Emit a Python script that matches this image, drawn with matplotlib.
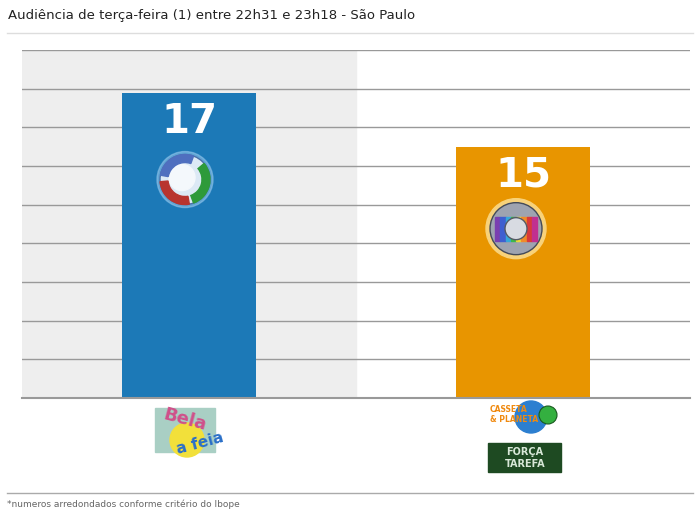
import matplotlib as mpl

mpl.use("Agg")
import matplotlib.pyplot as plt
from matplotlib.patches import Circle, Wedge, Rectangle, FancyBboxPatch
from matplotlib.transforms import ScaledTranslation, blended_transform_factory

# data
channels = ["Record", "Globo"]
programs = [["Bela a Feia"], ["Casseta & Planeta", "Força Tarefa"]]
bar_heights = [15.8, 13.0]  # drawn heights on a 0-18 scale
value_labels = ["17", "15"]
bar_colors = ["#1c79b7", "#e89500"]

title = "Audiência de terça-feira (1) entre 22h31 e 23h18 - São Paulo"
footnote = "*numeros arredondados conforme critério do Ibope"

W, H = 700, 521
fig = plt.figure(figsize=(W / 100, H / 100), dpi=100)


def fx(px):
    return px / W


def fy(py):
    return 1 - py / H


ax = fig.add_axes([fx(22), fy(398), fx(690) - fx(22), fy(50) - fy(398)])
x = list(range(len(channels)))
ax.set_xlim(-0.5, 1.5)
ax.set_ylim(0, 18)
ax.axvspan(-0.5, 0.5, color="#eeeeee", zorder=0)
ax.set_yticks(range(0, 19, 2))
ax.yaxis.grid(True, color="#999999", linewidth=1)
ax.set_axisbelow(True)
ax.tick_params(left=False, bottom=False, labelleft=False, labelbottom=False)
for s in ax.spines.values():
    s.set_visible(False)
ax.axhline(0, color="#999999", linewidth=1.5, zorder=3, clip_on=False)

bars = ax.bar(x, bar_heights, width=0.4, color=bar_colors, zorder=2)

for xi, h, lab in zip(x, bar_heights, value_labels):
    ax.annotate(lab, (xi, h), xytext=(0, -29), textcoords="offset pixels",
                ha="center", va="center", color="white", fontsize=29,
                fontweight="bold", zorder=5)


def at_point(xi, yi, trans):
    # pixel-sized drawing anchored at a data point
    return fig.dpi_scale_trans + ScaledTranslation(xi, yi, trans)


# Record logo
t = at_point(x[0], bar_heights[0], ax.transData)
c0 = (-0.04, -0.87)
ax.add_patch(Circle(c0, 0.28, transform=t, color="#8fc3ea", alpha=0.6, zorder=4, clip_on=False))
ax.add_patch(Circle(c0, 0.25, transform=t, color="#dce9f5", ec="#4a6fa8", lw=1, zorder=4, clip_on=False))
ax.add_patch(Circle((c0[0] - 0.03, c0[1] + 0.02), 0.13, transform=t, color="#f4f8fc", zorder=4, clip_on=False))
ax.add_patch(Wedge(c0, 0.25, 70, 170, width=0.08, transform=t, color="#4f6fbf", zorder=4, clip_on=False))
ax.add_patch(Wedge(c0, 0.25, -70, 40, width=0.08, transform=t, color="#2e9a3a", zorder=4, clip_on=False))
ax.add_patch(Wedge(c0, 0.25, 185, 280, width=0.08, transform=t, color="#b8342f", zorder=4, clip_on=False))

# Globo logo
t = at_point(x[1], bar_heights[1], ax.transData)
c1 = (-0.07, -0.82)
ax.add_patch(Circle(c1, 0.30, transform=t, color="#f8d27a", zorder=4, clip_on=False))
ax.add_patch(Circle(c1, 0.26, transform=t, color="#9ea3b0", ec="#444a58", lw=1, zorder=4, clip_on=False))
rainbow = ["#7a3fb0", "#3f5fd0", "#38a8d8", "#3cb84a", "#e8d83a", "#f08a2a", "#d83a3a", "#c03090"]
rw = 0.42 / len(rainbow)
for i, col in enumerate(rainbow):
    ax.add_patch(Rectangle((c1[0] - 0.21 + i * rw, c1[1] - 0.12), rw, 0.24, transform=t,
                           color=col, zorder=4, clip_on=False))
ax.add_patch(Circle(c1, 0.11, transform=t, color="#d8dbe2", ec="#555a66", lw=1, zorder=4, clip_on=False))

# program logos under the axis
base = blended_transform_factory(ax.transData, ax.transAxes)

t = at_point(x[0], 0, base)
ax.add_patch(Rectangle((-0.34, -0.54), 0.60, 0.44, transform=t, color="#a9cfc4", zorder=4, clip_on=False))
ax.add_patch(Circle((-0.02, -0.42), 0.17, transform=t, color="#f2e03a", zorder=4, clip_on=False))
ax.text(-0.28, -0.22, "Bela", transform=t, color="#d0508a", fontsize=13, fontweight="bold",
        rotation=-15, va="center", ha="left", zorder=5, clip_on=False)
ax.text(-0.14, -0.45, "a feia", transform=t, color="#2a6fc8", fontsize=11, fontweight="bold",
        rotation=15, va="center", ha="left", zorder=5, clip_on=False)

t = at_point(x[1], 0, base)
ax.add_patch(Circle((0.08, -0.19), 0.16, transform=t, color="#2c7fd0", zorder=4, clip_on=False))
ax.add_patch(Circle((0.25, -0.17), 0.09, transform=t, color="#34b040", ec="#1a5a20", lw=0.8, zorder=4, clip_on=False))
ax.text(-0.33, -0.11, "CASSETA", transform=t, color="#f08a10", fontsize=5.5, fontweight="bold",
        va="center", ha="left", zorder=5, clip_on=False)
ax.text(-0.33, -0.22, "& PLANETA", transform=t, color="#f08a10", fontsize=5.5, fontweight="bold",
        va="center", ha="left", zorder=5, clip_on=False)
ax.add_patch(Rectangle((-0.35, -0.74), 0.73, 0.29, transform=t, color="#1e4a22", zorder=4, clip_on=False))
ax.text(0.02, -0.54, "FORÇA", transform=t, color="#d8e8d8", fontsize=7, fontweight="bold",
        va="center", ha="center", zorder=5, clip_on=False)
ax.text(0.02, -0.66, "TAREFA", transform=t, color="#d8e8d8", fontsize=7, fontweight="bold",
        va="center", ha="center", zorder=5, clip_on=False)

# title, rules and footnote
fig.text(fx(8), fy(15), title, fontsize=9.5, color="#222222", va="center", ha="left")
fig.add_artist(plt.Line2D([fx(7), fx(693)], [fy(33), fy(33)], color="#dddddd", lw=1))
fig.add_artist(plt.Line2D([fx(7), fx(693)], [fy(493), fy(493)], color="#aaaaaa", lw=1))
fig.text(fx(7), fy(504), footnote, fontsize=6.5, color="#666666", va="center", ha="left")

fig.savefig("out.png", dpi=100)
